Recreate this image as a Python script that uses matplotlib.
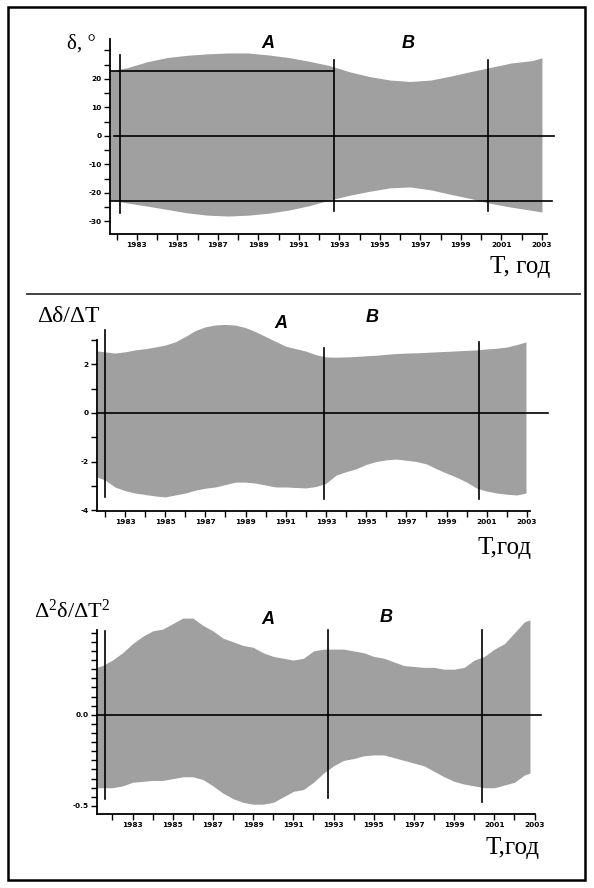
import matplotlib
matplotlib.use("Agg")
import matplotlib.pyplot as plt
from matplotlib.ticker import FixedLocator, MultipleLocator
from matplotlib.patches import Rectangle
from matplotlib.lines import Line2D

plt.rcParams['mathtext.fontset'] = 'custom'
plt.rcParams['mathtext.rm'] = 'Liberation Serif'
plt.rcParams['mathtext.it'] = 'Liberation Serif:italic'

# ---------------- data ----------------
# Panel 1: declination envelope, degrees
years1 = [1981.67, 1982.5, 1983.5, 1984.5, 1985.5, 1986.5, 1987.5, 1988.5, 1989.5, 1990.5,
          1991.5, 1992.5, 1993.5, 1994.5, 1995.5, 1996.5, 1997.5, 1998.5, 1999.5, 2000.5,
          2001.5, 2002.5, 2003.0]
upper1 = [22.8, 23.9, 26.0, 27.5, 28.3, 28.8, 29.1, 29.1, 28.4, 27.5,
          26.2, 24.7, 22.5, 20.8, 19.6, 19.1, 19.6, 21.0, 22.6, 24.1,
          25.6, 26.4, 27.4]
lower1 = [-22.5, -23.5, -24.6, -25.8, -27.0, -27.8, -28.1, -27.8, -27.1, -26.0,
          -24.5, -22.5, -20.8, -19.4, -18.2, -17.9, -18.9, -20.5, -22.0, -23.7,
          -25.0, -26.1, -26.7]
vlines1 = [1982.16, 1992.73, 2000.34]
hline1_top = 22.6
hline1_bot = -22.8

# Panel 2: first difference envelope
years2 = [1981.61, 1982.0, 1982.5, 1983.0, 1983.5, 1984.0, 1984.5, 1985.0, 1985.5, 1986.0,
          1986.5, 1987.0, 1987.5, 1988.0, 1988.5, 1989.0, 1989.5, 1990.0, 1990.5, 1991.0,
          1991.5, 1992.0, 1992.5, 1993.0, 1993.5, 1994.0, 1994.5, 1995.0, 1995.5, 1996.0,
          1996.5, 1997.0, 1997.5, 1998.0, 1998.5, 1999.0, 1999.5, 2000.0, 2000.5, 2001.0,
          2001.5, 2002.0, 2002.5, 2002.95]
upper2 = [2.56, 2.52, 2.47, 2.52, 2.6, 2.65, 2.72, 2.8, 2.93, 3.15,
          3.4, 3.55, 3.63, 3.65, 3.62, 3.52, 3.35, 3.15, 2.95, 2.75,
          2.65, 2.55, 2.4, 2.31, 2.3, 2.31, 2.33, 2.36, 2.38, 2.42,
          2.45, 2.47, 2.48, 2.5, 2.52, 2.54, 2.56, 2.58, 2.6, 2.64,
          2.67, 2.72, 2.82, 2.93]
lower2 = [-2.64, -2.76, -3.05, -3.2, -3.3, -3.36, -3.42, -3.46, -3.38, -3.3,
          -3.18, -3.1, -3.05, -2.95, -2.85, -2.85, -2.89, -2.97, -3.05, -3.05,
          -3.07, -3.09, -3.03, -2.9, -2.56, -2.42, -2.3, -2.12, -2.0, -1.93,
          -1.9, -1.95, -2.0, -2.1, -2.3, -2.48, -2.65, -2.85, -3.1, -3.22,
          -3.3, -3.35, -3.38, -3.3]
vlines2 = [1982.0, 1992.9, 2000.61]

# Panel 3: second difference envelope
years3 = [1981.23, 1981.5, 1982.0, 1982.5, 1983.0, 1983.5, 1984.0, 1984.5, 1985.0, 1985.5,
          1986.0, 1986.5, 1987.0, 1987.5, 1988.0, 1988.5, 1989.0, 1989.5, 1990.0, 1990.5,
          1991.0, 1991.5, 1992.0, 1992.5, 1993.0, 1993.5, 1994.0, 1994.5, 1995.0, 1995.5,
          1996.0, 1996.5, 1997.0, 1997.5, 1998.0, 1998.5, 1999.0, 1999.5, 2000.0, 2000.5,
          2001.0, 2001.5, 2002.0, 2002.5, 2002.77]
upper3 = [0.26, 0.27, 0.30, 0.34, 0.39, 0.43, 0.46, 0.47, 0.50, 0.53,
          0.53, 0.49, 0.46, 0.42, 0.40, 0.38, 0.37, 0.34, 0.32, 0.31,
          0.30, 0.31, 0.35, 0.36, 0.36, 0.36, 0.35, 0.34, 0.32, 0.31,
          0.29, 0.27, 0.265, 0.26, 0.26, 0.25, 0.25, 0.26, 0.30, 0.32,
          0.36, 0.39, 0.45, 0.51, 0.52]
lower3 = [-0.40, -0.40, -0.40, -0.39, -0.37, -0.365, -0.36, -0.36, -0.35, -0.34,
          -0.34, -0.355, -0.39, -0.43, -0.46, -0.48, -0.49, -0.49, -0.48, -0.45,
          -0.42, -0.41, -0.37, -0.32, -0.28, -0.25, -0.24, -0.225, -0.22, -0.22,
          -0.235, -0.25, -0.265, -0.28, -0.31, -0.34, -0.365, -0.38, -0.39, -0.40,
          -0.40, -0.385, -0.37, -0.33, -0.32]
vlines3 = [1981.63, 1992.72, 2000.38]

xtick_years = [1983, 1985, 1987, 1989, 1991, 1993, 1995, 1997, 1999, 2001, 2003]
xtick_labels = [str(y) for y in xtick_years]
yticks1 = [-30, -20, -10, 0, 10, 20]
yticks2 = [-4, -2, 0, 2]
yticks3 = [-0.5, 0.0]
yticklabels3 = ['-0.5', '0.0']
yminor3 = [-0.5, -0.45, -0.4, -0.35, -0.3, -0.25, -0.2, -0.15, -0.1, -0.05, 0.0,
           0.05, 0.1, 0.15, 0.2, 0.25, 0.3, 0.35, 0.4, 0.45]

# ---------------- layout ----------------
W, H = 594, 888
fig = plt.figure(figsize=(W / 100, H / 100), dpi=100)
FILL = '#a0a0a0'


def ax_px(left, right, top, bottom):
    return fig.add_axes([left / W, 1 - bottom / H, (right - left) / W, (bottom - top) / H])


def style(ax, xlim, ylim, ybounds, yticks, yticklabels, yminor):
    ax.set_xlim(*xlim)
    ax.set_ylim(*ylim)
    for s in ('top', 'right'):
        ax.spines[s].set_visible(False)
    for s in ('left', 'bottom'):
        ax.spines[s].set_linewidth(1.3)
        ax.spines[s].set_color('black')
    ax.spines['left'].set_bounds(*ybounds)
    ax.xaxis.set_major_locator(FixedLocator(xtick_years))
    ax.set_xticklabels(xtick_labels)
    ax.xaxis.set_minor_locator(MultipleLocator(1))
    ax.yaxis.set_major_locator(FixedLocator(yticks))
    ax.set_yticklabels(yticklabels)
    ax.yaxis.set_minor_locator(yminor)
    ax.tick_params(which='both', direction='out', length=4, width=1, pad=2,
                   labelsize=5.3, colors='black')
    for lab in ax.get_xticklabels() + ax.get_yticklabels():
        lab.set_fontweight('bold')
    ax.patch.set_visible(False)


def px2fig(x, y):
    return x / W, 1 - y / H


# Panel 1
ax1 = ax_px(110, 547, 39, 234)
ax1.fill_between(years1, lower1, upper1, color=FILL, linewidth=0, zorder=1)
style(ax1, (1981.67, 2003.25), (-34.4, 34.0), (-34.4, 34.0), yticks1,
      [str(v) for v in yticks1], MultipleLocator(5))
yl1 = [(28.4, -27.0), (26.7, -26.3), (26.7, -26.3)]
for xv, (t, b) in zip(vlines1, yl1):
    ax1.plot([xv, xv], [b, t], color='black', lw=1.2, zorder=3)
ax1.plot([1981.67, 1992.73], [hline1_top, hline1_top], color='black', lw=1.2, zorder=3)
ax1.plot([1981.67, 2003.5], [hline1_bot, hline1_bot], color='black', lw=1.2, zorder=3, clip_on=False)
ax1.plot([1981.87, 2003.6], [0, 0], color='black', lw=1.2, zorder=3, clip_on=False)

# Panel 2
ax2 = ax_px(97, 530, 322, 511)
ax2.fill_between(years2, lower2, upper2, color=FILL, linewidth=0, zorder=1)
style(ax2, (1981.61, 2003.15), (-4.04, 3.75), (-4.04, 3.0), yticks2,
      [str(v) for v in yticks2], MultipleLocator(1))
yl2 = [(3.42, -3.46), (2.68, -3.55), (2.93, -3.55)]
for xv, (t, b) in zip(vlines2, yl2):
    ax2.plot([xv, xv], [b, t], color='black', lw=1.2, zorder=3)
ax2.plot([1981.61, 2004.05], [0, 0], color='black', lw=1.2, zorder=3, clip_on=False)

# Panel 3
ax3 = ax_px(97, 535, 609, 814)
ax3.fill_between(years3, lower3, upper3, color=FILL, linewidth=0, zorder=1)
style(ax3, (1981.23, 2003.02), (-0.544, 0.58), (-0.544, 0.467), yticks3,
      yticklabels3, FixedLocator(yminor3))
yl3 = [(0.46, -0.46), (0.467, -0.456), (0.467, -0.48)]
for xv, (t, b) in zip(vlines3, yl3):
    ax3.plot([xv, xv], [b, t], color='black', lw=1.2, zorder=3)
ax3.plot([1981.23, 2003.32], [0, 0], color='black', lw=1.2, zorder=3, clip_on=False)

# ---------------- texts ----------------
serif = 'Liberation Serif'
sans = 'Liberation Sans'


def ftext(x, y, s, **kw):
    fx, fy = px2fig(x, y)
    fig.text(fx, fy, s, ha='center', va='center', **kw)


ftext(81, 44, 'δ, °', family=serif, fontsize=15)
ftext(268, 43, 'A', family=sans, fontsize=13, fontweight='bold', style='italic')
ftext(408, 43, 'B', family=sans, fontsize=13, fontweight='bold', style='italic')
ftext(520, 267, 'T, год', family=serif, fontsize=18)

ftext(68, 316, 'Δδ/ΔT', family=serif, fontsize=17)
ftext(281, 323, 'A', family=sans, fontsize=13, fontweight='bold', style='italic')
ftext(372, 318, 'B', family=sans, fontsize=13, fontweight='bold', style='italic')
ftext(504, 548, 'T,год', family=serif, fontsize=18)

ftext(72, 610, r'$\mathrm{\Delta^2\delta/\Delta T^2}$', fontsize=16)
ftext(268, 620, 'A', family=sans, fontsize=13, fontweight='bold', style='italic')
ftext(386, 617, 'B', family=sans, fontsize=13, fontweight='bold', style='italic')
ftext(512, 848, 'T,год', family=serif, fontsize=18)

# frame and separator
fig.add_artist(Rectangle((8 / W, 1 - 880 / H), (585 - 8) / W, (880 - 7) / H,
                         transform=fig.transFigure, fill=False, edgecolor='black', lw=1.8))
fig.add_artist(Line2D([27 / W, 580 / W], [1 - 294 / H, 1 - 294 / H],
                      transform=fig.transFigure, color='#333333', lw=1.3))

fig.savefig('out.png', dpi=100)
